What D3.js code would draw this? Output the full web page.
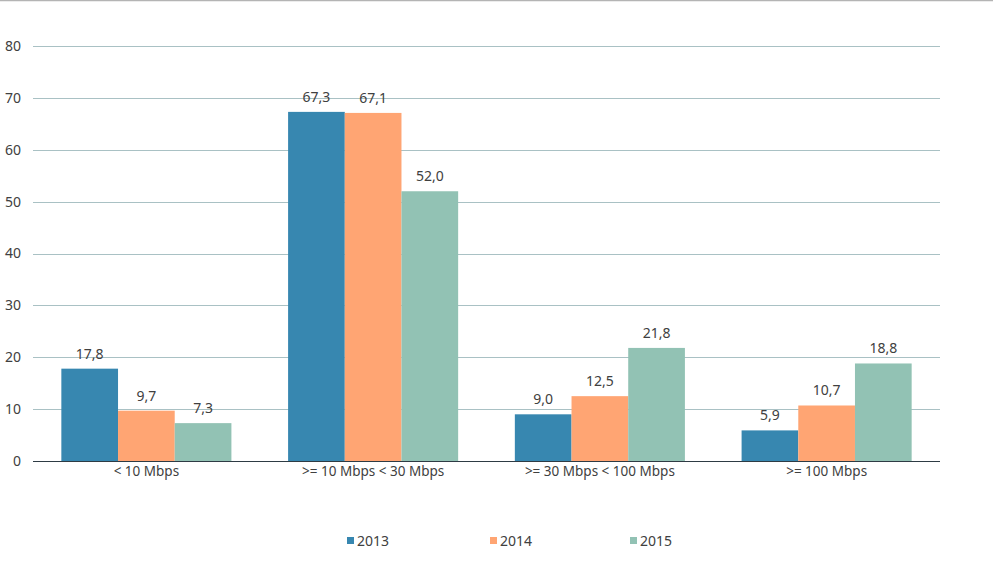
<!DOCTYPE html>
<html><head><meta charset="utf-8">
<script src="https://cdn.jsdelivr.net/npm/d3@7"></script>
<style>body{margin:0;background:#fff;}svg{display:block;}text{font-family:"Noto Sans","Open Sans",sans-serif;}</style>
</head><body>
<script>
const categories = ["< 10 Mbps", ">= 10 Mbps < 30 Mbps", ">= 30 Mbps < 100 Mbps", ">= 100 Mbps"];
const seriesNames = ["2013", "2014", "2015"];
const values2013 = [17.8, 67.3, 9.0, 5.9];
const values2014 = [9.7, 67.1, 12.5, 10.7];
const values2015 = [7.3, 52.0, 21.8, 18.8];
const yTicks = [0, 10, 20, 30, 40, 50, 60, 70, 80];
const colors = ["#3787B0", "#FFA573", "#92C2B4"];
const series = [values2013, values2014, values2015];

const W = 993, H = 567;
const svg = d3.select("body").append("svg").attr("width", W).attr("height", H);
svg.append("line").attr("x1",0).attr("x2",W).attr("y1",0.5).attr("y2",0.5).attr("stroke","#b4b4b4").attr("stroke-width",1.5);

const x0 = d3.scaleBand().domain(categories).range([33, 940]).paddingInner(0).paddingOuter(0);
const groupW = x0.bandwidth() * 0.75;
const x1 = d3.scaleBand().domain(seriesNames).range([0, groupW]);
const y = d3.scaleLinear().domain([0, 80]).range([461, 46]);

// grid
svg.append("g").selectAll("line").data(yTicks.filter(d=>d>0)).join("line")
  .attr("x1", 33).attr("x2", 940).attr("y1", d=>Math.round(y(d))+0.5).attr("y2", d=>Math.round(y(d))+0.5)
  .attr("stroke", "#A9C1C4").attr("stroke-width", 1);

// y axis labels
const yAxis = d3.axisLeft(y).tickValues(yTicks).tickSize(0).tickPadding(0);
const ya = svg.append("g").attr("transform","translate(21,0)").call(yAxis);
ya.select(".domain").remove();
ya.selectAll("text").attr("font-size", 14).attr("fill", "#404040").attr("font-family","Noto Sans, sans-serif");

// bars
const groups = svg.append("g").selectAll("g").data(categories).join("g")
  .attr("transform", c => `translate(${x0(c) + (x0.bandwidth()-groupW)/2},0)`);
seriesNames.forEach((s, si) => {
  groups.append("rect")
    .attr("x", x1(s)).attr("width", x1.bandwidth())
    .attr("y", (c, ci) => y(series[si][ci])).attr("height", (c, ci) => y(0) - y(series[si][ci]))
    .attr("fill", colors[si]);
  groups.append("text")
    .attr("x", x1(s) + x1.bandwidth()/2).attr("y", (c, ci) => y(series[si][ci]) - 10)
    .attr("text-anchor","middle").attr("font-size", 14).attr("fill","#404040")
    .text((c, ci) => series[si][ci].toFixed(1).replace(".", ","));
});

// baseline
svg.append("line").attr("x1",33).attr("x2",940).attr("y1",461.5).attr("y2",461.5).attr("stroke","#2E3B44").attr("stroke-width",1);

// x axis labels
const xAxis = d3.axisBottom(x0).tickSize(0).tickPadding(4);
const xa = svg.append("g").attr("transform","translate(0,462)").call(xAxis);
xa.select(".domain").remove();
xa.selectAll("text").attr("font-size", 13.5).attr("fill","#404040").attr("font-family","Noto Sans, sans-serif");

// legend
const legX = [347, 490, 630];
const leg = svg.append("g").selectAll("g").data(seriesNames).join("g")
  .attr("transform", (d,i)=>`translate(${legX[i]},541)`);
leg.append("rect").attr("x",0).attr("y",-4).attr("width",7).attr("height",7).attr("fill",(d,i)=>colors[i]);
leg.append("text").attr("x",10).attr("y",5).attr("font-size",14).attr("fill","#404040").text(d=>d);
</script>
</body></html>
